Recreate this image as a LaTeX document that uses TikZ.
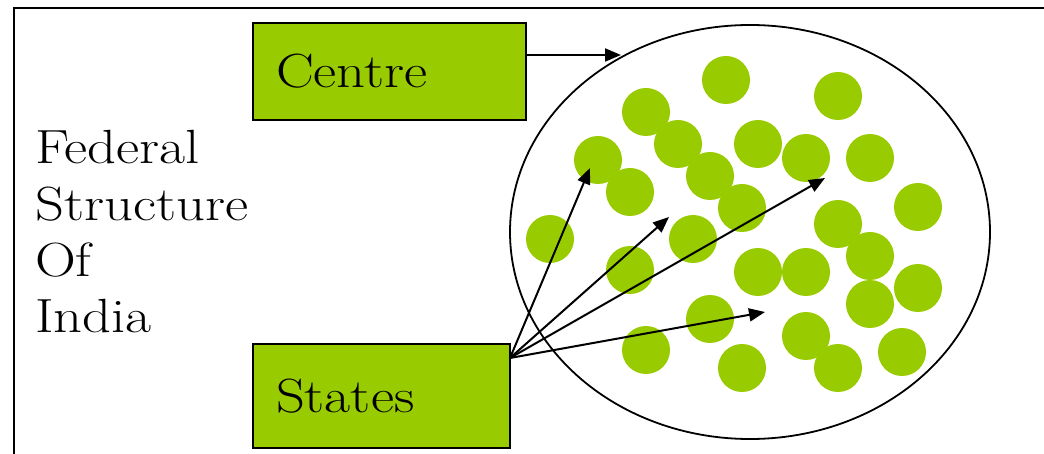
\documentclass[tikz,border=0pt]{standalone}
\usepackage{fontspec}
\usetikzlibrary{arrows.meta,shapes.geometric}
\definecolor{dotgreen}{RGB}{153,204,0}
\newcommand{\widetext}[1]{\scalebox{1.18}[1]{#1}}
\tikzset{
  boxnode/.style={draw=black, line width=1.6pt, fill=dotgreen, rectangle, inner xsep=0pt, inner ysep=0pt, align=left, font=\fontsize{48}{56}\selectfont},
  bigtext/.style={anchor=base west, inner sep=0pt, font=\fontsize{48}{56}\selectfont},
  arr/.style={line width=2pt, -{Triangle[length=16pt,width=13pt]}},
  dot/.style={fill=dotgreen},
}
\begin{document}
\begin{tikzpicture}[x=1pt,y=-1pt]
\useasboundingbox (0,0) rectangle (1044,454);
\clip (0,0) rectangle (1044,454);
% frame
\draw[line width=2pt] (14,8) rectangle (1070,480);
% big ellipse
\node[draw, ellipse, line width=1.8pt, minimum width=480pt, minimum height=414pt, inner sep=0pt] (ring) at (750,232) {};
% dots
\foreach \x/\y in {726/80, 838/96, 646/112, 678/144, 758/144, 598/160, 806/158, 870/158,
  630/192, 710/176, 742/208, 918/207, 838/224, 550/239, 693/239, 870/256, 630/270,
  758/272, 806/272, 918/288, 870/304, 710/319, 806/336, 646/350, 902/352, 742/368, 838/368}
  \fill[dot] (\x,\y) circle[radius=24];
% boxes
\node[boxnode, minimum width=273pt, minimum height=97pt, text width=227pt] (centre) at (389.5,71.5) {\widetext{Centre}};
\node[boxnode, minimum width=257pt, minimum height=104pt, text width=211pt] (states) at (381.5,396) {\widetext{States}};
% left text
\node[bigtext] (t1) at (35,164) {\widetext{Federal}};
\node[bigtext] (t2) at (35,220.5) {\widetext{Structure}};
\node[bigtext] (t3) at (35,277) {\widetext{Of}};
\node[bigtext] (t4) at (35,333) {\widetext{India}};
% connectors
\coordinate (c0) at (526,55);
\coordinate (c1) at (621,55);
\coordinate (s0) at (510,358);
\coordinate (a1) at (590,168);
\coordinate (a2) at (669,217);
\coordinate (a3) at (825,178);
\coordinate (a4) at (765,312);
\draw[arr] (c0) -- (c1);
\draw[arr] (s0) -- (a1);
\draw[arr] (s0) -- (a2);
\draw[arr] (s0) -- (a3);
\draw[arr] (s0) -- (a4);
\end{tikzpicture}
\end{document}
